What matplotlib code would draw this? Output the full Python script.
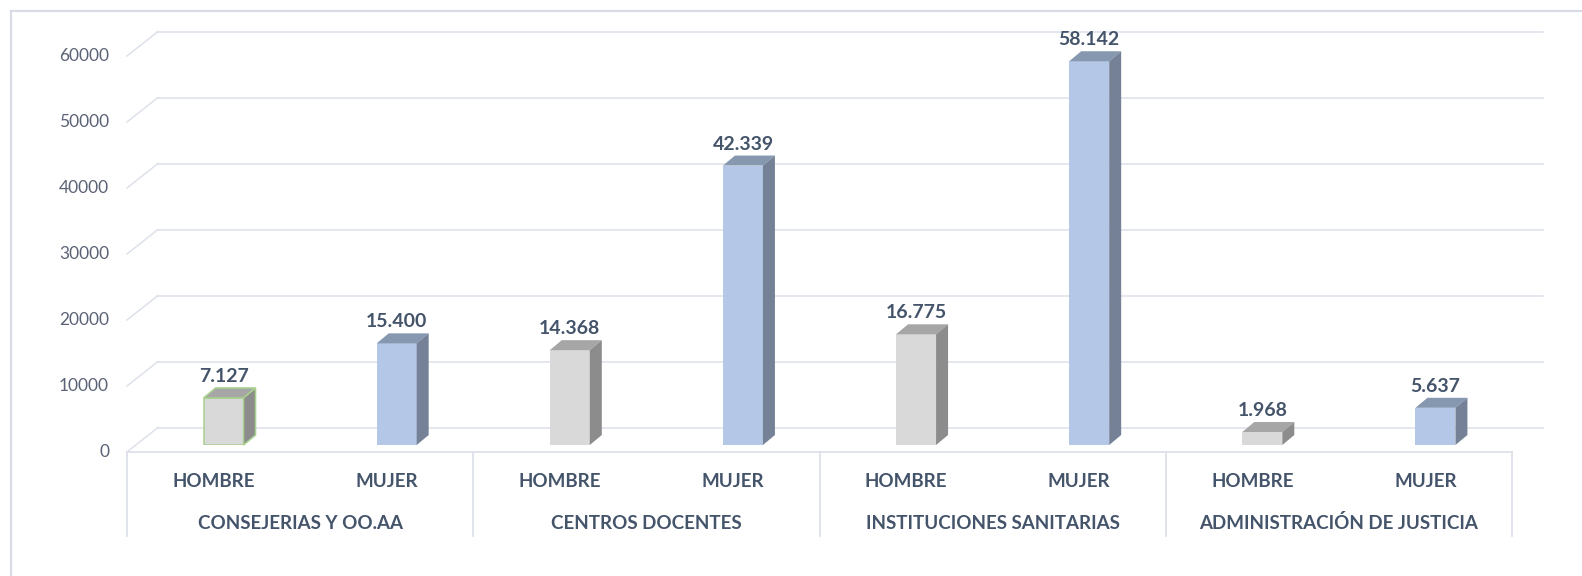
import matplotlib
matplotlib.use("Agg")
import matplotlib.pyplot as plt
from matplotlib.patches import Polygon
from matplotlib.lines import Line2D
from matplotlib.transforms import offset_copy, IdentityTransform

plt.rcParams['font.family'] = ['Lato', 'DejaVu Sans']

# data
grupos = ['CONSEJERIAS Y OO.AA', 'CENTROS DOCENTES',
          'INSTITUCIONES SANITARIAS', 'ADMINISTRACIÓN DE JUSTICIA']
sexos = ['HOMBRE', 'MUJER']
hombres = [7127, 14368, 16775, 1968]
mujeres = [15400, 42339, 58142, 5637]
yticks = [0, 10000, 20000, 30000, 40000, 50000, 60000]

# colours
grid_c = '#DDE1E9'
txt_c = '#44546A'
tick_c = '#5A6275'
front_c = {'HOMBRE': '#D9D9D9', 'MUJER': '#B4C7E7'}
top_c = {'HOMBRE': '#A6A6A6', 'MUJER': '#8697B0'}
side_c = {'HOMBRE': '#8C8C8C', 'MUJER': '#748196'}

W, H = 1582, 576
fig = plt.figure(figsize=(W / 100, H / 100), dpi=100)
fig.patch.set_facecolor('white')

# outer frame (only left and top visible in the picture)
fig.add_artist(Line2D([10.5 / W, 10.5 / W], [0, 1 - 11 / H], transform=fig.transFigure,
                      color='#D9DCE4', lw=1.6))
fig.add_artist(Line2D([10.5 / W, 1], [1 - 11 / H, 1 - 11 / H], transform=fig.transFigure,
                      color='#D9DCE4', lw=1.6))

ax = fig.add_axes([137 / W, 131 / H, 1385 / W, 429 / H])
ax.set_xlim(-0.5, 7.5)
ax.set_ylim(0, 65000)
ax.axis('off')

# planes of the fake 3d: back wall and front (category) plane
back = offset_copy(ax.transData, fig=fig, x=21, y=17.5, units='dots')
front = offset_copy(ax.transData, fig=fig, x=-10, y=-7, units='dots')

def seg(p0, p1, **kw):
    ax.add_line(Line2D([p0[0], p1[0]], [p0[1], p1[1]], transform=IdentityTransform(),
                       clip_on=False, **kw))

# gridlines on the back wall + diagonals to the front
for t in yticks:
    ax.plot([-0.5, 7.5], [t, t], transform=back, color=grid_c, lw=1.1, zorder=0, clip_on=False)
    seg(front.transform((-0.5, t)), back.transform((-0.5, t)), color=grid_c, lw=1.1, zorder=0)
    ax.annotate(f'{t}', xy=(-0.5, t), xycoords=front, xytext=(-18, 0),
                textcoords='offset pixels', ha='right', va='center',
                fontsize=12.5, color=tick_c)

# category box on the front plane
ax.plot([-0.5, 7.5], [0, 0], transform=front, color=grid_c, lw=1.3, zorder=1, clip_on=False)
for xb in [-0.5, 1.5, 3.5, 5.5, 7.5]:
    p = front.transform((xb, 0))
    seg(p, (p[0], p[1] - 84), color=grid_c, lw=1.3, zorder=1)

# bars
valores, etiquetas = [], []
for h, m in zip(hombres, mujeres):
    valores += [h, m]
    etiquetas += sexos
bw = 0.231
dx, dy = 12, 10

for i, (v, s) in enumerate(zip(valores, etiquetas)):
    edge = '#A9D18E' if i == 0 else 'none'
    ax.bar(i, v, width=bw, color=front_c[s], edgecolor=edge, lw=1.1, zorder=3)
    x0, y0 = ax.transData.transform((i - bw / 2, 0))
    x1, y1 = ax.transData.transform((i + bw / 2, v))
    top = [(x0, y1), (x1, y1), (x1 + dx, y1 + dy), (x0 + dx, y1 + dy)]
    side = [(x1, y0), (x1, y1), (x1 + dx, y1 + dy), (x1 + dx, y0 + dy)]
    for pts, c in [(top, top_c[s]), (side, side_c[s])]:
        ax.add_patch(Polygon(pts, closed=True, transform=IdentityTransform(),
                             facecolor=c, edgecolor=edge, lw=1.1, zorder=3, clip_on=False))
    ax.annotate(f'{v:,}'.replace(',', '.'), xy=(i, v), xytext=(0, 16),
                textcoords='offset pixels', ha='center', va='baseline',
                fontsize=14, fontweight='bold', color=txt_c)
    ax.annotate(s, xy=(i, 0), xycoords=front, xytext=(0, -35),
                textcoords='offset pixels', ha='center', va='baseline',
                fontsize=13.5, fontweight='bold', color=txt_c)

for g, name in enumerate(grupos):
    ax.annotate(name, xy=(2 * g + 0.5, 0), xycoords=front, xytext=(0, -77),
                textcoords='offset pixels', ha='center', va='baseline',
                fontsize=13.5, fontweight='bold', color=txt_c)

fig.savefig('out.png', dpi=100, facecolor='white')
